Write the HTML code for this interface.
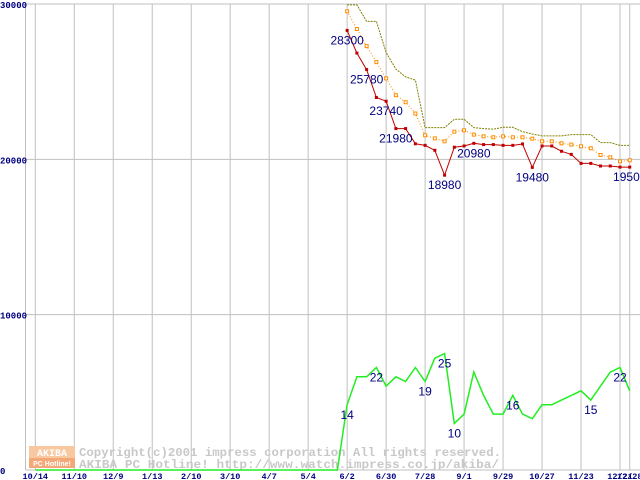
<!DOCTYPE html>
<html><head><meta charset="utf-8"><style>
html,body{margin:0;padding:0;background:#fff;}
svg{display:block;font-family:"Liberation Sans",sans-serif;}
</style></head><body>
<svg id="chart" width="640" height="480" viewBox="0 0 640 480">
<rect x="0" y="0" width="640" height="480" fill="#fff"/>
<g id="grid"></g>
<g id="watermark">
  <rect x="29" y="446" width="46" height="12" fill="#f8c8a0"/>
  <rect x="29" y="458" width="46" height="10" fill="#f4a878"/>
  <text x="52" y="456" font-size="10" font-weight="bold" fill="#fff" text-anchor="middle" font-family="Liberation Mono, monospace">AKIBA</text>
  <text x="52" y="466" font-size="7" font-weight="bold" fill="#fff" text-anchor="middle">PC Hotline!</text>
  <text x="79" y="456" font-size="12" font-weight="bold" fill="#c8c8c8" font-family="Liberation Mono, monospace" textLength="422" lengthAdjust="spacingAndGlyphs">Copyright(c)2001 impress corporation All rights reserved.</text>
  <text x="79" y="468" font-size="12" font-weight="bold" fill="#c8c8c8" font-family="Liberation Mono, monospace" textLength="420" lengthAdjust="spacingAndGlyphs">AKIBA PC Hotline!  http://www.watch.impress.co.jp/akiba/</text>
</g>
<g id="series"></g>
<g id="labels"></g>
</svg>
<script>
const xTickLabels=["10/14","11/10","12/9","1/13","2/10","3/10","4/7","5/4","6/2","6/30","7/28","9/1","9/29","10/27","11/23","12/21","12/28"];
const xTickWeeks=[0,4,8,12,16,20,24,28,32,36,40,44,48,52,56,60,61];
const yTicks=[0,10000,20000,30000];
const startWeek=32;
const minPrice=[28300,26840,25780,23980,23740,21980,21980,21000,20900,20580,18980,20780,20860,21030,20950,20950,20900,20900,20990,19480,20860,20860,20520,20320,19740,19740,19570,19570,19500,19500];
const avgPrice=[29530,28390,27290,26260,25210,24130,23680,22950,21550,21350,21160,21780,21870,21590,21480,21420,21480,21420,21420,21330,21160,21160,21030,20950,20840,20710,20280,20130,19870,19940];
const maxPrice=[29940,29940,28880,28880,26880,25810,25310,25100,22040,22040,22040,22580,22580,22040,21980,21940,22060,22060,21780,21630,21510,21510,21510,21590,21590,21590,21080,21080,20900,20900];
const shopCount=[14,20,20,22,18,20,19,22,19,24,25,10,12,21,16,12,12,16,12,11,14,14,15,16,17,15,18,21,22,17];
const priceLabels=[[0,"28300"],[2,"25780"],[4,"23740"],[5,"21980"],[10,"18980"],[13,"20980"],[19,"19480"],[29,"19500"]];
const countLabels=[[0,"14"],[3,"22"],[8,"19"],[10,"25"],[11,"10"],[17,"16"],[25,"15"],[28,"22"]];
const countScale=300;
const NS="http://www.w3.org/2000/svg";
function xw(w){return 35.3+w*9.745;}
function yv(v){return 470-v*(466/30000);}
function mk(tag,attrs,parent){const e=document.createElementNS(NS,tag);for(const k in attrs)e.setAttribute(k,attrs[k]);parent.appendChild(e);return e;}
const grid=document.getElementById('grid');
const series=document.getElementById('series');
const labels=document.getElementById('labels');
let l=mk('line',{x1:25.5,y1:4,x2:25.5,y2:470,stroke:'#c0c0c0'},grid);


yTicks.forEach(v=>{
  const y=yv(v);
  const g=mk('line',{x1:25.5,y1:y,x2:640,y2:y,stroke:'#c0c0c0'},grid);
  
  
  const t=mk('text',{x:0,y:y+4,'font-size':9,'font-weight':'bold',fill:'#000080','font-family':'Liberation Mono, monospace'},grid);
  t.textContent=v===0?"0":String(v);
  
  
});
xTickWeeks.forEach((w,i)=>{
  const x=xw(w);
  const g=mk('line',{x1:x,y1:4,x2:x,y2:470,stroke:'#c0c0c0'},grid);
  
  
  const t=mk('text',{x:x,y:479,'font-size':8.5,'font-weight':'bold',fill:'#000080','text-anchor':'middle','font-family':'Liberation Mono, monospace'},grid);
  t.textContent=xTickLabels[i];
  
  
});
function pts(arr,scale){return arr.map((v,i)=>xw(startWeek+i).toFixed(1)+','+yv(v*scale).toFixed(1)).join(' ');}
let gp=xw(0)+','+yv(0)+' '+xw(startWeek-1)+','+yv(0)+' '+pts(shopCount,countScale);
let p=mk('polyline',{points:gp,fill:'none',stroke:'#22ee22','stroke-width':1.5},series);


p=mk('polyline',{points:pts(maxPrice,1),fill:'none',stroke:'#808000','stroke-width':1,'stroke-dasharray':'2,1'},series);


p=mk('polyline',{points:pts(avgPrice,1),fill:'none',stroke:'#ff8c00','stroke-width':1,'stroke-dasharray':'1,2'},series);


avgPrice.forEach((v,i)=>{
  const r=mk('rect',{x:xw(startWeek+i)-1.5,y:yv(v)-1.5,width:3,height:3,fill:'#fff',stroke:'#ff8c00','stroke-width':1},series);
  
  
});
p=mk('polyline',{points:pts(minPrice,1),fill:'none',stroke:'#c00000','stroke-width':1},series);


minPrice.forEach((v,i)=>{
  const r=mk('rect',{x:xw(startWeek+i)-1.5,y:yv(v)-1.5,width:3,height:3,fill:'#c00000'},series);
  
  
});
priceLabels.forEach(([i,s])=>{
  const t=mk('text',{x:xw(startWeek+i),y:yv(minPrice[i])+14,'font-size':12,fill:'#000080','text-anchor':'middle'},labels);
  t.textContent=s;
  
  
});
countLabels.forEach(([i,s])=>{
  const t=mk('text',{x:xw(startWeek+i),y:yv(shopCount[i]*countScale)+14,'font-size':12,fill:'#000080','text-anchor':'middle'},labels);
  t.textContent=s;
  
  
});
</script>
</body></html>
